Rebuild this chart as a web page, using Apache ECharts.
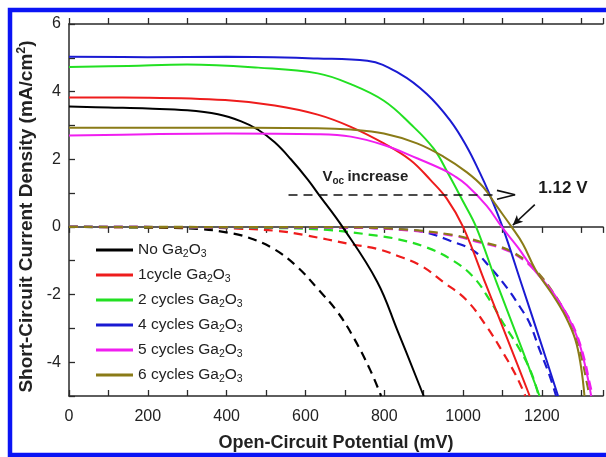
<!DOCTYPE html>
<html><head><meta charset="utf-8">
<script src="https://cdn.jsdelivr.net/npm/echarts@6/dist/echarts.min.js"></script>
<style>html,body{margin:0;padding:0;background:#fff}#c{width:606px;height:457px}</style>
</head><body><div id="c"></div>
<script>
// ---------- data (mV, mA/cm2) ----------
const seriesNames = ['No Ga2O3','1cycle Ga2O3','2 cycles Ga2O3','4 cycles Ga2O3','5 cycles Ga2O3','6 cycles Ga2O3'];
const legendLabels = ['No Ga{s|2}O{s|3}','1cycle Ga{s|2}O{s|3}','2 cycles Ga{s|2}O{s|3}','4 cycles Ga{s|2}O{s|3}','5 cycles Ga{s|2}O{s|3}','6 cycles Ga{s|2}O{s|3}'];
const colors = ['#000000','#ee1c1c','#22e022','#1a1ad2','#f01ef0','#8a7b17'];

// illuminated (solid)
const noGaV  = [0,100,200,300,378,437,479,522,563,606,631,694,782,833,900];
const noGaJ  = [3.56,3.53,3.50,3.45,3.33,3.12,2.88,2.50,2.00,1.40,1.00,0,-1.62,-3.05,-5.0];
const c1V    = [0,200,396,522,631,715,799,866,917,959,1000,1057,1123,1169];
const c1J    = [3.83,3.82,3.75,3.59,3.32,2.96,2.47,1.98,1.39,0.83,0,-1.68,-3.63,-5.0];
const c2V    = [0,150,300,480,631,715,799,866,925,961,1000,1033,1086,1150,1194];
const c2J    = [4.73,4.76,4.80,4.71,4.54,4.22,3.73,3.05,2.32,1.60,0.75,0,-1.68,-3.63,-5.0];
const c4V    = [0,200,400,631,757,841,908,967,1009,1043,1064,1100,1148,1203,1241];
const c4J    = [5.03,5.02,5.03,4.98,4.91,4.52,3.93,3.15,2.38,1.59,1.05,0,-1.68,-3.63,-5.0];
const c5V    = [0,200,400,631,715,799,883,950,976,1009,1060,1098,1140,1172,1230,1266,1292,1310,1325];
const c5J    = [2.70,2.74,2.76,2.74,2.67,2.42,2.03,1.69,1.52,1.24,0.62,0,-0.62,-1.15,-1.97,-2.65,-3.34,-4.12,-5.0];
const c6V    = [0,300,631,715,799,883,950,1009,1051,1085,1123,1152,1183,1225,1260,1285,1299,1308];
const c6J    = [2.93,2.93,2.92,2.88,2.76,2.47,2.08,1.62,1.18,0.62,0,-0.51,-1.25,-1.97,-2.65,-3.34,-4.12,-5.0];

// dark (dashed)
const noGaDV = [0,200,330,404,454,521,580,631,681,723,765,792];
const noGaDJ = [0,-0.02,-0.06,-0.17,-0.31,-0.66,-1.19,-1.83,-2.51,-3.29,-4.25,-5.0];
const c1DV   = [0,300,429,530,597,715,782,833,892,950,1009,1060,1102,1135,1158];
const c1DJ   = [0,-0.02,-0.05,-0.12,-0.24,-0.51,-0.65,-0.85,-1.14,-1.63,-2.17,-2.95,-3.73,-4.41,-5.0];
const c2DV   = [0,500,656,782,833,908,975,1026,1068,1102,1144,1173,1192];
const c2DJ   = [0,-0.03,-0.09,-0.26,-0.36,-0.61,-1.0,-1.48,-2.17,-2.85,-3.63,-4.31,-5.0];
const c4DV   = [0,700,850,908,967,1026,1068,1110,1144,1169,1194,1220,1236];
const c4DJ   = [0,-0.02,-0.08,-0.17,-0.41,-0.70,-1.19,-1.78,-2.36,-2.85,-3.63,-4.41,-5.0];
const c5DV   = [0,700,858,975,1042,1102,1150,1186,1228,1262,1287,1308,1321,1329];
const c5DJ   = [0,-0.02,-0.10,-0.26,-0.46,-0.65,-0.95,-1.34,-1.97,-2.56,-3.14,-3.92,-4.61,-5.0];
const c6DV   = [0,700,858,975,1042,1102,1150,1186,1228,1260,1284,1302,1314,1321];
const c6DJ   = [0,-0.01,-0.08,-0.24,-0.43,-0.62,-0.92,-1.30,-1.93,-2.55,-3.14,-3.92,-4.61,-5.0];

const lightV = [noGaV,c1V,c2V,c4V,c5V,c6V];
const lightJ = [noGaJ,c1J,c2J,c4J,c5J,c6J];
const darkV  = [noGaDV,c1DV,c2DV,c4DV,c5DV,c6DV];
const darkJ  = [noGaDJ,c1DJ,c2DJ,c4DJ,c5DJ,c6DJ];

// axes
const xMin = 0, xMax = 1355, xStep = 100;
const yMin = -5, yMax = 6, yStep = 1;

// annotations (data coordinates)
const vocArrowStart = [557, 0.95], vocArrowEnd = [1090, 0.95];
const vocHeadTop = [1086, 1.08], vocHeadTip = [1132, 0.95], vocHeadBot = [1086, 0.82];
const pointerStart = [1182, 0.66], pointerEnd = [1126, 0.05];
const vocTextAt = [643, 1.47];
const v112TextAt = [1191, 1.13];

// ---------- chart ----------
const FONT = 'Arial, "Liberation Sans", Helvetica, sans-serif';
const AX = '#2a2a2a';
const zip = (a,b) => a.map((v,i)=>[v,b[i]]);
const chart = echarts.init(document.getElementById('c'), null, {renderer:'canvas'});

const series = [];
for (let i=0;i<seriesNames.length;i++){
  series.push({
    name: seriesNames[i] + ' dark', type:'line', xAxisIndex:0, yAxisIndex:0,
    data: zip(darkV[i], darkJ[i]), showSymbol:false, smooth:0.4,
    lineStyle:{color:colors[i], width:2.2, type:[9,6]}, itemStyle:{color:colors[i]}, z:2, silent:true
  });
}
for (let i=0;i<seriesNames.length;i++){
  series.push({
    name: seriesNames[i], type:'line', xAxisIndex:0, yAxisIndex:0,
    data: zip(lightV[i], lightJ[i]), showSymbol:false, smooth:0.4,
    lineStyle:{color:colors[i], width:2}, itemStyle:{color:colors[i]}, z:3, silent:true
  });
}
series[6].markLine = {
  silent:true, animation:false, symbol:['none','none'], label:{show:false},
  lineStyle:{color:'#111', width:1.6, type:'solid'},
  data:[
    [{coord:vocArrowStart, lineStyle:{type:[9,6], color:'#111', width:1.6}}, {coord:vocArrowEnd}],
    [{coord:vocHeadTop}, {coord:vocHeadTip}],
    [{coord:vocHeadBot}, {coord:vocHeadTip}],
    [{coord:pointerStart, symbol:'none'}, {coord:pointerEnd, symbol:'arrow', symbolSize:[7,10]}]
  ]
};

const commonX = {type:'value', min:xMin, max:xMax, interval:xStep, splitLine:{show:false}};
chart.setOption({
  animation:false,
  backgroundColor:'#ffffff',
  grid:{left:69, right:0, top:24, bottom:57, containLabel:false},
  legend:{
    data: seriesNames, orient:'vertical', left:91, top:235, itemWidth:37, itemHeight:3,
    itemGap:5, icon:'rect', selectedMode:false,
    formatter: n => legendLabels[seriesNames.indexOf(n)],
    textStyle:{fontFamily:FONT, fontSize:15.5, color:'#222', lineHeight:18,
      rich:{s:{fontFamily:FONT, fontSize:10.5, color:'#222', padding:[9,0,0,0], lineHeight:18}}}
  },
  xAxis:[
    Object.assign({}, commonX, {position:'bottom',
      name:'Open-Circuit Potential (mV)', nameLocation:'middle', nameGap:38,
      nameTextStyle:{fontFamily:FONT, fontSize:18, fontWeight:'bold', color:'#222'},
      axisLine:{onZero:false, lineStyle:{color:AX, width:1.5}},
      axisTick:{inside:true, length:6, lineStyle:{color:AX, width:1.3}},
      axisLabel:{margin:13, fontFamily:FONT, fontSize:16, color:'#222',
        formatter: v => (v % 200 === 0 ? String(v) : '')}}),
    Object.assign({}, commonX, {position:'bottom',
      axisLine:{onZero:true, lineStyle:{color:AX, width:1.5}},
      axisTick:{inside:false, length:6, lineStyle:{color:AX, width:1.3}},
      axisLabel:{show:false}}),
    Object.assign({}, commonX, {position:'top',
      axisLine:{onZero:true, lineStyle:{color:AX, width:1.5}},
      axisTick:{inside:false, length:6, lineStyle:{color:AX, width:1.3}},
      axisLabel:{show:false}})
  ],
  yAxis:{
    type:'value', min:yMin, max:yMax, interval:yStep, position:'left',
    name:'Short-Circuit Current Density (mA/cm{sup|2})', nameLocation:'middle', nameGap:31, nameRotate:90,
    nameTextStyle:{fontFamily:FONT, fontSize:19, fontWeight:'bold', color:'#222', padding:[0,13,0,0],
      rich:{sup:{fontFamily:FONT, fontSize:12.5, fontWeight:'bold', color:'#222', padding:[0,0,9,0]}}},
    splitLine:{show:false},
    axisLine:{onZero:false, lineStyle:{color:AX, width:1.5}},
    axisTick:{inside:true, length:6, lineStyle:{color:AX, width:1.3}},
    axisLabel:{margin:8, fontFamily:FONT, fontSize:16, color:'#222',
      formatter: v => (v % 2 === 0 ? String(v) : '')}
  },
  series: series
});

const p1 = chart.convertToPixel({xAxisIndex:0, yAxisIndex:0}, vocTextAt);
const p2 = chart.convertToPixel({xAxisIndex:0, yAxisIndex:0}, v112TextAt);
chart.setOption({
  graphic:[
    {type:'rect', silent:true, z:100, shape:{x:10, y:10, width:720, height:445},
      style:{fill:'none', stroke:'#0a14f5', lineWidth:4.5}},
    {type:'text', silent:true, z:50, x:p1[0], y:p1[1],
      style:{text:'{v|V}{s|oc} {t|increase}', verticalAlign:'middle', align:'left',
        rich:{v:{fontFamily:FONT, fontSize:15, fontWeight:'bold', fill:'#222'},
              s:{fontFamily:FONT, fontSize:10, fontWeight:'bold', fill:'#222', padding:[8,0,0,0]},
              t:{fontFamily:FONT, fontSize:15, fontWeight:'bold', fill:'#222'}}}},
    {type:'text', silent:true, z:50, x:p2[0], y:p2[1],
      style:{text:'1.12 V', verticalAlign:'middle', align:'left',
        font:'bold 17px ' + FONT, fill:'#1a1a1a'}}
  ]
});
</script></body></html>
